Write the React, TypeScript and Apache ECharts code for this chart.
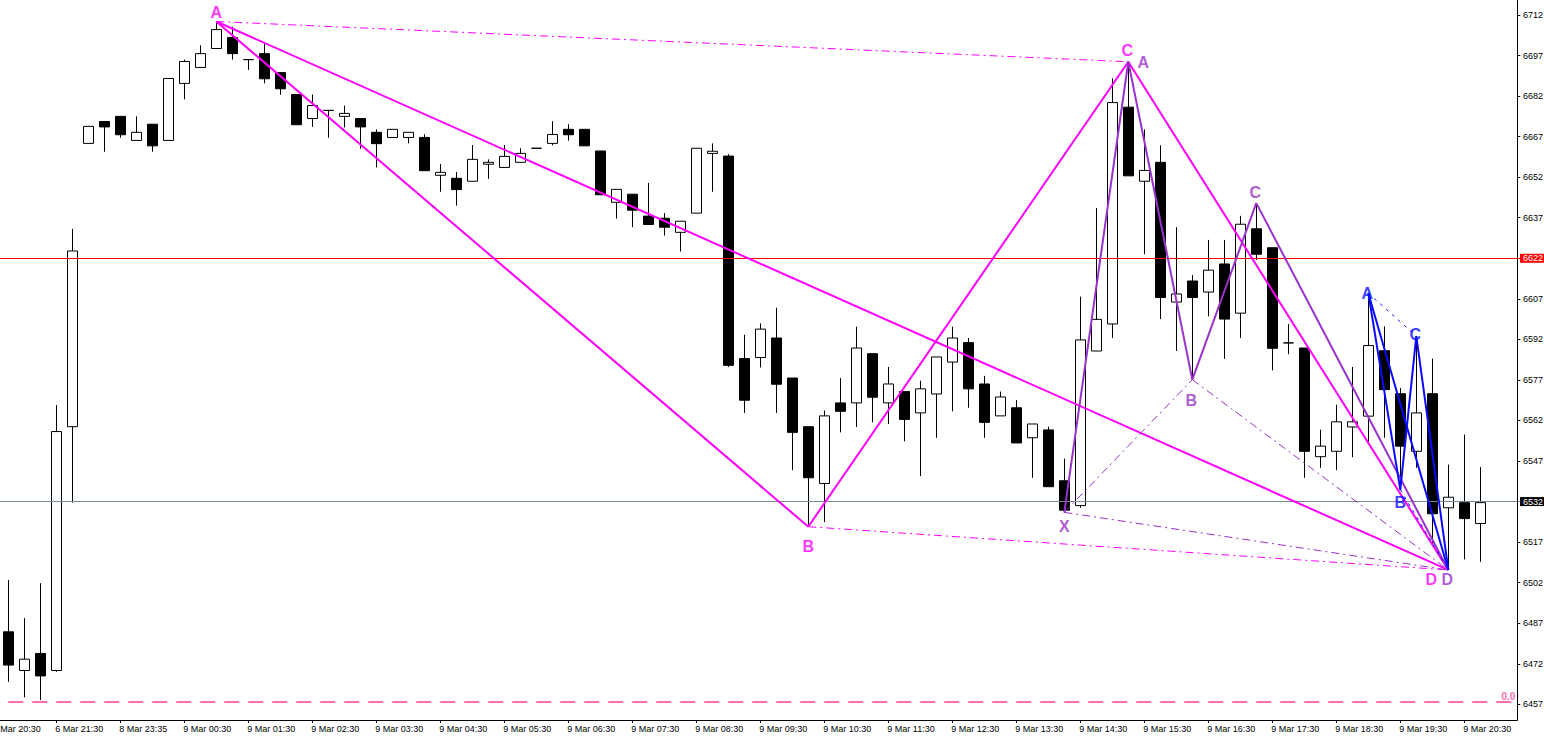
import React, { useEffect, useRef } from "react";
import * as echarts from "echarts";

// ---------- data ----------
const tickLabels = [
  "Mar 20:30", "6 Mar 21:30", "8 Mar 23:35", "9 Mar 00:30", "9 Mar 01:30", "9 Mar 02:30",
  "9 Mar 03:30", "9 Mar 04:30", "9 Mar 05:30", "9 Mar 06:30", "9 Mar 07:30", "9 Mar 08:30",
  "9 Mar 09:30", "9 Mar 10:30", "9 Mar 11:30", "9 Mar 12:30", "9 Mar 13:30", "9 Mar 14:30",
  "9 Mar 15:30", "9 Mar 16:30", "9 Mar 17:30", "9 Mar 18:30", "9 Mar 19:30", "9 Mar 20:30",
];

const opens = [
  6483.8, 6469.5, 6475.8, 6469.5, 6559.7, 6664.5, 6672.6, 6674.5, 6665.6, 6671.6,
  6665.6, 6686.7, 6692.6, 6699.6, 6703.7, 6695.5, 6697.7, 6690.7, 6682.6, 6673.7,
  6676.7, 6674.5, 6673.7, 6668.6, 6666.7, 6666.7, 6666.7, 6652.7, 6651.6, 6650.5,
  6656.8, 6655.6, 6657.5, 6662.7, 6664.5, 6669.7, 6669.7, 6661.7, 6642.7, 6645.7,
  6637.6, 6636.8, 6631.6, 6638.7, 6660.8, 6659.8, 6584.9, 6585.3, 6592.5, 6577.7,
  6559.7, 6538.7, 6568.5, 6568.5, 6586.7, 6568.5, 6572.7, 6564.8, 6571.8, 6583.6,
  6590.8, 6575.5, 6563.7, 6566.7, 6555.6, 6558.5, 6539.7, 6530.5, 6587.7, 6597.7,
  6677.9, 6650.5, 6657.5, 6605.8, 6613.6, 6609.5, 6619.9, 6601.7, 6632.9, 6625.9,
  6590.7, 6588.8, 6548.6, 6550.6, 6559.6, 6563.6, 6587.8, 6571.9, 6550.6, 6571.9,
  6529.7, 6531.6, 6523.9,
];
const closes = [
  6471.5, 6473.7, 6467.5, 6557.9, 6624.7, 6670.8, 6670.6, 6667.7, 6668.6, 6663.6,
  6688.5, 6694.8, 6697.7, 6706.6, 6697.7, 6695.5, 6688.4, 6684.7, 6671.4, 6678.5,
  6676.7, 6675.6, 6670.6, 6664.4, 6669.7, 6668.6, 6654.4, 6653.8, 6647.4, 6658.6,
  6657.5, 6659.7, 6660.8, 6662.7, 6667.8, 6667.7, 6663.6, 6645.5, 6647.5, 6639.8,
  6634.5, 6633.5, 6635.7, 6662.7, 6661.6, 6582.4, 6569.5, 6595.8, 6575.4, 6557.6,
  6540.8, 6563.7, 6565.4, 6588.8, 6570.6, 6575.5, 6562.4, 6573.7, 6585.5, 6592.5,
  6573.7, 6561.3, 6570.7, 6553.7, 6560.7, 6537.5, 6528.8, 6591.8, 6599.4, 6679.6,
  6652.5, 6654.5, 6607.5, 6608.8, 6607.5, 6617.6, 6599.5, 6634.6, 6623.5, 6588.7,
  6590.7, 6550.6, 6552.5, 6561.5, 6561.5, 6589.7, 6573.4, 6552.5, 6564.8, 6527.5,
  6533.6, 6525.7, 6531.6,
];
const lows = [
  6465.3, 6459.6, 6458.6, 6469.0, 6531.6, 6664.5, 6661.4, 6666.6, 6665.6, 6661.4,
  6665.6, 6680.8, 6692.6, 6699.6, 6695.5, 6691.7, 6686.7, 6682.5, 6671.4, 6670.6,
  6666.6, 6670.4, 6662.5, 6655.6, 6666.7, 6664.5, 6654.4, 6646.6, 6641.5, 6650.5,
  6651.4, 6655.6, 6657.5, 6662.7, 6663.8, 6665.5, 6663.6, 6645.5, 6636.7, 6633.5,
  6634.5, 6630.4, 6624.5, 6638.7, 6646.6, 6581.8, 6564.8, 6581.6, 6564.8, 6543.6,
  6522.7, 6524.4, 6557.6, 6559.6, 6561.3, 6560.7, 6554.3, 6541.4, 6555.6, 6565.4,
  6566.7, 6555.6, 6563.7, 6553.7, 6540.8, 6537.5, 6528.0, 6529.7, 6587.7, 6592.5,
  6652.5, 6623.5, 6599.5, 6587.7, 6577.1, 6600.5, 6584.8, 6592.5, 6621.4, 6580.5,
  6586.5, 6540.8, 6544.5, 6543.6, 6548.4, 6554.1, 6555.6, 6536.4, 6544.5, 6515.5,
  6506.7, 6510.6, 6509.7,
];
const highs = [
  6503.0, 6488.9, 6501.8, 6567.7, 6632.9, 6670.8, 6672.6, 6674.5, 6674.5, 6671.6,
  6688.5, 6695.5, 6700.8, 6709.6, 6707.6, 6695.5, 6701.4, 6690.7, 6682.6, 6682.6,
  6676.7, 6678.5, 6673.7, 6669.7, 6669.7, 6668.6, 6667.9, 6656.9, 6653.9, 6663.9,
  6658.6, 6663.9, 6662.7, 6662.7, 6672.7, 6671.6, 6669.7, 6661.7, 6647.5, 6645.7,
  6649.9, 6638.7, 6635.7, 6662.7, 6664.5, 6660.5, 6593.7, 6597.9, 6603.7, 6577.7,
  6559.7, 6565.7, 6577.7, 6596.7, 6586.7, 6581.8, 6572.7, 6576.7, 6585.5, 6596.7,
  6592.5, 6578.5, 6572.7, 6569.6, 6560.7, 6559.7, 6547.9, 6607.8, 6640.6, 6688.6,
  6694.7, 6669.7, 6663.8, 6633.5, 6615.8, 6628.8, 6628.8, 6637.7, 6642.4, 6625.9,
  6597.7, 6588.8, 6558.6, 6567.8, 6581.8, 6609.1, 6596.8, 6574.0, 6593.2, 6584.9,
  6545.7, 6556.8, 6544.8,
];

// harmonic pattern pivots (bar index, price)
const magentaNames = ["A", "B", "C", "D"];
const magentaIdx = [13, 50, 70, 90];
const magentaVal = [6709.6, 6522.7, 6694.7, 6506.7];

const purpleNames = ["X", "A", "B", "C", "D"];
const purpleIdx = [66, 70, 74, 78, 90];
const purpleVal = [6528.0, 6694.7, 6577.1, 6642.4, 6506.7];

const blueNames = ["A", "B", "C", "D"];
const blueIdx = [85, 87, 88, 90];
const blueVal = [6609.1, 6536.4, 6593.2, 6506.7];

const redLevel = 6622;
const grayLevel = 6532;
const zeroLevel = 6457.8;

const yMin = 6457;
const yMax = 6712;
const yStep = 15;

// ---------- styles ----------
const MAGENTA = "#ff00ff";
const PURPLE = "#9932cc";
const BLUE = "#0a0aff";
const PINK = "#ff6eb4";
const DASHDOT = [8, 4, 2, 4];
const LEAD = 1; // one off-screen bar at the left
const TRAIL = 2;
const AXIS_FONT = "'Liberation Sans', Arial, sans-serif";
const AXIS_SIZE = 9;

const labelOffsets: Record<string, number[]> = {
  "m-A": [0, -9], "m-B": [0, 20], "m-C": [-1, -11], "m-D": [-17, 10],
  "p-X": [0, 14], "p-A": [15, 1], "p-B": [-1, 21], "p-C": [-1, -11], "p-D": [-1, 10],
  "b-A": [-1, 0], "b-B": [0, 13], "b-C": [-1, -2],
};

export default function App() {
  const ref = useRef<HTMLDivElement>(null);

  useEffect(() => {
    const chart = echarts.init(ref.current!, null, { renderer: "svg" });

    const nCat = LEAD + opens.length + TRAIL;
    const categories: string[] = [];
    for (let c = 0; c < nCat; c++) {
      categories.push(c % 4 === 0 && tickLabels[c / 4] ? tickLabels[c / 4] : "bar" + c);
    }
    const candleData = categories.map((_, c) => {
      const i = c - LEAD;
      if (i < 0 || i >= opens.length) return ["-", "-", "-", "-"];
      return [opens[i], closes[i], lows[i], highs[i]];
    });

    const series: any[] = [
      {
        type: "candlestick",
        data: candleData,
        barWidth: 10,
        z: 2,
        itemStyle: {
          color: "#ffffff",
          color0: "#000000",
          borderColor: "#000000",
          borderColor0: "#000000",
          borderWidth: 1,
        },
        markLine: {
          silent: true,
          symbol: "none",
          z: 3,
          label: { show: false },
          data: [
            { yAxis: redLevel, lineStyle: { color: "#ff0000", width: 1, type: "solid" } },
            { yAxis: grayLevel, lineStyle: { color: "#778899", width: 1, type: "solid" } },
            {
              yAxis: zeroLevel,
              lineStyle: { color: PINK, width: 2, type: [15, 9] },
              label: {
                show: true,
                formatter: "0.0",
                position: "insideEndTop",
                distance: [5, 1],
                color: PINK,
                fontSize: 10,
                fontWeight: "bold",
                fontFamily: AXIS_FONT,
              },
            },
          ],
        },
      },
    ];

    const seg = (idx: number[], val: number[], a: number, b: number, color: string, width: number, type: any) => {
      series.push({
        type: "line",
        data: [
          [idx[a] + LEAD, val[a]],
          [idx[b] + LEAD, val[b]],
        ],
        symbol: "none",
        silent: true,
        z: 5,
        lineStyle: { color, width, type },
      });
    };

    // magenta pattern A-B-C-D
    seg(magentaIdx, magentaVal, 0, 2, MAGENTA, 1, DASHDOT);
    seg(magentaIdx, magentaVal, 1, 3, MAGENTA, 1, DASHDOT);
    seg(magentaIdx, magentaVal, 0, 1, MAGENTA, 2, "solid");
    seg(magentaIdx, magentaVal, 1, 2, MAGENTA, 2, "solid");
    seg(magentaIdx, magentaVal, 2, 3, MAGENTA, 2, "solid");
    seg(magentaIdx, magentaVal, 0, 3, MAGENTA, 2, "solid");

    // purple pattern X-A-B-C-D
    seg(purpleIdx, purpleVal, 0, 2, PURPLE, 1, DASHDOT);
    seg(purpleIdx, purpleVal, 2, 4, PURPLE, 1, DASHDOT);
    seg(purpleIdx, purpleVal, 0, 4, PURPLE, 1, DASHDOT);
    seg(purpleIdx, purpleVal, 0, 1, PURPLE, 2, "solid");
    seg(purpleIdx, purpleVal, 1, 2, PURPLE, 2, "solid");
    seg(purpleIdx, purpleVal, 2, 3, PURPLE, 2, "solid");
    seg(purpleIdx, purpleVal, 3, 4, PURPLE, 2, "solid");

    // blue pattern A-B-C-D
    seg(blueIdx, blueVal, 0, 2, BLUE, 1, [3, 5]);
    seg(blueIdx, blueVal, 1, 3, BLUE, 1, [3, 5]);
    seg(blueIdx, blueVal, 0, 1, BLUE, 2, "solid");
    seg(blueIdx, blueVal, 1, 2, BLUE, 2, "solid");
    seg(blueIdx, blueVal, 2, 3, BLUE, 2, "solid");
    seg(blueIdx, blueVal, 0, 3, BLUE, 2, "solid");

    const labels = (key: string, names: string[], idx: number[], val: number[], color: string, count: number) => {
      const data: any[] = [];
      for (let k = 0; k < count; k++) {
        data.push({
          value: [idx[k] + LEAD, val[k]],
          label: {
            show: true,
            formatter: names[k],
            position: "inside",
            offset: labelOffsets[key + "-" + names[k]] || [0, 0],
            color,
            fontSize: 16,
            fontWeight: "bold",
            fontFamily: "'Liberation Sans', Arial, sans-serif",
          },
        });
      }
      series.push({
        type: "scatter",
        data,
        symbolSize: 1,
        silent: true,
        z: 6,
        itemStyle: { color: "rgba(0,0,0,0)" },
      });
    };
    labels("m", magentaNames, magentaIdx, magentaVal, MAGENTA, 4);
    labels("b", blueNames, blueIdx, blueVal, BLUE, 3);
    labels("p", purpleNames, purpleIdx, purpleVal, PURPLE, 5);

    const richBase = { fontSize: AXIS_SIZE, fontFamily: AXIS_FONT, lineHeight: 10, padding: [0, 1, 0, 3] };

    chart.setOption({
      animation: false,
      backgroundColor: "#ffffff",
      grid: {
        left: -15.7,
        top: 15,
        width: nCat * 16,
        height: 689.3,
        containLabel: false,
        outerBoundsMode: "none",
      },
      xAxis: {
        type: "category",
        data: categories,
        boundaryGap: true,
        offset: 15.7,
        axisLine: { show: false },
        axisTick: { show: true, alignWithLabel: true, interval: 3, length: 3, lineStyle: { color: "#000" } },
        axisLabel: {
          interval: 3,
          align: "left",
          margin: 4,
          color: "#000",
          fontSize: AXIS_SIZE,
          fontFamily: AXIS_FONT,
          formatter: (v: string, i: number) => (i === 0 ? `{f|${v}}` : `{n|${v}}`),
          rich: {
            n: { fontSize: AXIS_SIZE, fontFamily: AXIS_FONT, color: "#000", padding: [0, 0, 0, -1] },
            f: { fontSize: AXIS_SIZE, fontFamily: AXIS_FONT, color: "#000", padding: [0, 0, 0, 8] },
          },
        },
        splitLine: { show: false },
      },
      yAxis: {
        type: "value",
        position: "right",
        offset: -3,
        min: yMin,
        max: yMax,
        interval: yStep,
        scale: true,
        axisLine: { show: false },
        axisTick: { show: true, length: 3, lineStyle: { color: "#000" } },
        splitLine: { show: false },
        axisLabel: {
          margin: 2.7,
          formatter: (v: number) =>
            v === redLevel ? `{r|${v}}` : v === grayLevel ? `{g|${v}}` : `{n|${v}}`,
          rich: {
            n: { ...richBase, color: "#000" },
            r: { ...richBase, color: "#fff", backgroundColor: "#ff0000" },
            g: { ...richBase, color: "#fff", backgroundColor: "#000" },
          },
        },
      },
      graphic: [
        { type: "line", silent: true, z: 100, shape: { x1: 1517.5, y1: 0, x2: 1517.5, y2: 720.5 }, style: { stroke: "#000", lineWidth: 1 } },
        { type: "line", silent: true, z: 100, shape: { x1: 0, y1: 720.5, x2: 1517.5, y2: 720.5 }, style: { stroke: "#000", lineWidth: 1 } },
      ],
      series,
    });

    return () => chart.dispose();
  }, []);

  return (
    <div
      ref={ref}
      style={{ position: "fixed", left: 0, top: 0, width: 1544, height: 736, background: "#fff" }}
    />
  );
}
